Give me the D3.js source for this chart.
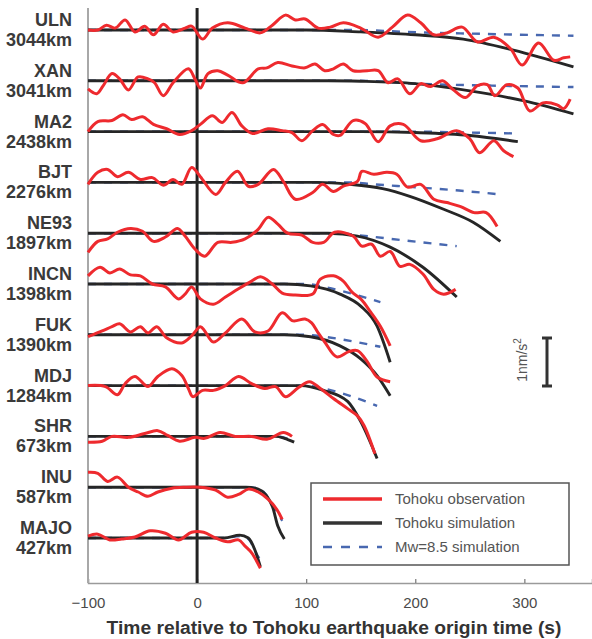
<!DOCTYPE html>
<html>
<head>
<meta charset="utf-8">
<script src="https://cdnjs.cloudflare.com/ajax/libs/d3/7.8.5/d3.min.js"></script>
<style>
  body { margin: 0; background: #fff; }
  svg { font-family: "Liberation Sans", Arial, sans-serif; }
</style>
</head>
<body>
<div id="chart"></div>
<script>
// stations, top to bottom
var stations = ["ULN", "XAN", "MA2", "BJT", "NE93", "INCN", "FUK", "MDJ", "SHR", "INU", "MAJO"];
var distances = [3044, 3041, 2438, 2276, 1897, 1398, 1390, 1284, 673, 587, 427];
var xTicks = [-100, 0, 100, 200, 300];

// Tohoku observation, [time (s), acceleration (nm/s^2)]
var observed = [
  [[-100,0],[-91,0],[-83,.10],[-75,.04],[-66,.21],[-57,-.04],[-48,.08],[-40,-.10],[-31,.12],[-22,-.04],[-11,.04],[-5,.08],[5,-.19],[14,.04],[28,.15],[44,.04],[58,-.06],[69,.10],[81,.31],[90,.21],[99,.23],[111,.04],[122,.06],[134,.15],[150,.04],[166,-.15],[179,.06],[193,.31],[205,.15],[217,-.10],[229,-.06],[243,.06],[257,-.25],[272,-.15],[287,-.38],[298,-.73],[313,-.27],[327,-.63],[336,-.58],[342,-.56]],
  [[-100,-.17],[-92,-.27],[-86,-.10],[-78,.15],[-71,.04],[-63,-.19],[-54,.08],[-45,.04],[-39,-.04],[-31,-.31],[-22,-.04],[-8,.25],[-2,.04],[3,-.15],[10,.15],[19,.21],[28,.12],[42,-.04],[56,.25],[64,.27],[74,.38],[87,.31],[99,.27],[108,.35],[117,.21],[125,.25],[134,.35],[143,.21],[156,.21],[166,.21],[175,-.04],[184,.04],[195,-.27],[205,-.06],[214,-.12],[225,0],[234,-.17],[246,-.35],[257,-.10],[266,-.08],[273,-.31],[284,-.08],[294,-.15],[305,-.63],[317,-.46],[330,-.50],[336,-.58],[342,-.38]],
  [[-100,0],[-91,.21],[-78,.23],[-68,.35],[-60,.25],[-50,.31],[-40,.15],[-28,.06],[-16,-.06],[-5,.02],[3,.15],[14,.33],[23,.19],[32,.40],[41,.12],[51,-.04],[65,.06],[78,.02],[87,-.02],[96,-.19],[106,.02],[115,.15],[125,-.06],[131,-.08],[143,.23],[154,.17],[166,-.21],[177,.12],[189,.15],[205,-.19],[220,-.15],[238,.02],[250,-.15],[259,-.44],[272,-.19],[281,-.40],[290,-.52]],
  [[-100,-.04],[-91,.21],[-82,.27],[-73,.12],[-63,.21],[-52,.06],[-41,.10],[-31,-.06],[-22,.06],[-14,-.04],[-5,.31],[3,.12],[17,-.25],[26,0],[37,.23],[47,-.08],[56,-.04],[70,.27],[79,.02],[90,-.35],[106,-.21],[115,-.04],[125,-.19],[134,-.08],[147,.02],[151,.23],[162,.17],[174,.21],[183,.17],[193,-.10],[205,-.04],[217,-.35],[229,-.42],[241,-.50],[254,-.63],[265,-.63],[275,-.92]],
  [[-100,-.40],[-91,-.17],[-82,-.12],[-73,.02],[-61,.10],[-50,.04],[-40,-.17],[-29,-.08],[-18,.10],[-11,-.06],[-2,-.33],[7,-.48],[19,-.19],[32,-.19],[44,-.12],[56,.08],[65,.33],[74,.19],[83,0],[96,-.04],[106,-.19],[116,-.19],[126,.02],[143,-.06],[151,-.27],[160,-.23],[168,-.48],[177,-.38],[186,-.69],[195,-.65],[207,-.85],[217,-1.17],[226,-1.27],[237,-1.17]],
  [[-100,.17],[-89,.35],[-80,.23],[-71,.31],[-61,.19],[-52,.17],[-41,0],[-29,-.06],[-17,-.31],[-11,-.21],[-5,-.06],[3,-.31],[15,-.42],[26,-.27],[38,-.10],[50,.06],[58,.15],[69,0],[78,-.19],[90,-.23],[106,-.21],[113,.10],[125,.17],[134,.06],[142,-.17],[150,-.31],[159,-.58],[168,-.88],[177,-1.29]],
  [[-100,-.04],[-87,.08],[-78,.17],[-71,.23],[-61,.06],[-52,.17],[-45,.04],[-37,.17],[-28,-.06],[-14,-.17],[-5,-.02],[3,.17],[7,.08],[15,-.15],[26,.04],[41,.33],[53,.06],[65,.08],[78,.46],[88,.29],[99,.33],[105,.25],[111,.04],[117,-.15],[128,-.46],[139,-.35],[147,-.33],[156,-.56],[165,-.88],[177,-.98]],
  [[-100,0],[-84,-.02],[-73,-.19],[-66,.04],[-57,.19],[-45,-.02],[-36,.19],[-23,.35],[-14,.21],[-8,-.06],[-4,-.23],[5,-.10],[15,-.10],[26,0],[38,.19],[50,.04],[62,-.06],[72,-.02],[81,-.23],[93,-.04],[103,.08],[113,-.06],[125,-.27],[138,-.48],[147,-.63],[153,-.83],[163,-1.42]],
  [[-100,-.12],[-87,-.10],[-78,0],[-63,-.02],[-48,.06],[-36,.12],[-27,.02],[-16,-.10],[-2,-.02],[7,-.04],[21,.08],[35,0],[50,0],[64,-.06],[79,.08],[87,0]],
  [[-100,.31],[-91,.29],[-82,.12],[-73,.21],[-63,0],[-54,-.10],[-45,-.19],[-36,-.10],[-23,-.02],[-11,0],[3,0],[17,-.06],[28,-.21],[38,-.15],[47,-.04],[56,-.10],[65,-.25],[73,-.46],[78,-.67]],
  [[-100,.04],[-91,.08],[-80,-.04],[-69,-.02],[-57,.02],[-43,.15],[-29,.10],[-17,-.04],[-5,.12],[6,.12],[17,0],[28,-.08],[38,-.04],[44,-.17],[50,-.31],[58,-.63]]
];

// Tohoku simulation
var simulated = [
  [[-100,0],[100,0],[150,-.04],[200,-.10],[244,-.19],[290,-.42],[345,-.77]],
  [[-100,0],[120,0],[150,-.01],[200,-.06],[250,-.21],[300,-.42],[345,-.69]],
  [[-100,0],[150,0],[200,-.02],[250,-.08],[294,-.21]],
  [[-100,0],[110,0],[140,-.04],[170,-.13],[195,-.29],[226,-.56],[253,-.83],[278,-1.23]],
  [[-100,0],[120,0],[147,-.06],[177,-.29],[207,-.71],[238,-1.33]],
  [[-100,0],[80,0],[104,-.04],[131,-.21],[150,-.46],[165,-.88],[177,-1.63]],
  [[-100,0],[80,0],[104,-.04],[131,-.23],[150,-.50],[165,-.85],[177,-1.27]],
  [[-100,0],[95,0],[116,-.10],[138,-.33],[150,-.75],[165,-1.52]],
  [[-100,0],[72,0],[80,-.04],[89,-.12]],
  [[-100,0],[45,0],[56,-.04],[69,-.40],[74,-.81],[80,-1.08]],
  [[-100,0],[25,0],[39,.06],[47,0],[53,-.25],[58,-.60]]
];

// Mw=8.5 simulation
var mw85Sim = [
  [[-100,0],[150,0],[190,-.04],[260,-.08],[345,-.12]],
  [[-100,0],[150,0],[200,-.06],[270,-.10],[345,-.13]],
  [[-100,0],[200,0],[250,-.02],[295,-.04]],
  [[-100,0],[140,0],[162,-.04],[200,-.10],[240,-.17],[278,-.25]],
  [[-100,0],[130,0],[147,-.04],[190,-.15],[238,-.27]],
  [[-100,0],[100,0],[116,-.06],[140,-.19],[168,-.38]],
  [[-100,0],[100,0],[116,-.04],[168,-.25]],
  [[-100,0],[100,0],[116,-.06],[165,-.42]],
  [[-100,0],[72,0],[89,-.10]],
  [[-100,0],[45,0],[56,-.02],[69,-.35],[78,-.70]],
  [[-100,0],[25,0],[39,.04],[47,-.02],[55,-.35],[57,-.42]]
];

var width = 592;
var height = 639;
var plotLeft = 88;
var plotTop = 8;
var plotBottom = 583;
var pxPerUnit = 48;   // 1 nm/s^2 on screen

var svg = d3.select("#chart")
    .append("svg")
    .attr("width", width)
    .attr("height", height);

var xScale = d3.scaleLinear()
    .domain([-100, 362])
    .range([plotLeft, width]);

var rowScale = d3.scalePoint()
    .domain(stations)
    .range([30, 538]);

var ampScale = d3.scaleLinear()
    .domain([0, 1])
    .range([0, -pxPerUnit]);

// x axis
var xAxis = d3.axisBottom(xScale)
    .tickValues(xTicks)
    .tickSize(-4)
    .tickPadding(14)
    .tickFormat(function(d) { return d < 0 ? "\u2212" + Math.abs(d) : d; });

var xAxisG = svg.append("g")
    .attr("transform", `translate(0, ${plotBottom})`)
    .call(xAxis);
xAxisG.select(".domain").attr("stroke", "#9a9a9a").attr("stroke-width", 1.5);
xAxisG.selectAll(".tick line").attr("stroke", "#777").attr("stroke-width", 1.2);
xAxisG.selectAll(".tick text")
    .attr("font-size", 15)
    .attr("fill", "#4a4a4a");

// left frame line
svg.append("line")
    .attr("x1", plotLeft).attr("x2", plotLeft)
    .attr("y1", plotTop).attr("y2", plotBottom)
    .attr("stroke", "#a8a8a8")
    .attr("stroke-width", 2);

// origin time line
svg.append("line")
    .attr("x1", xScale(0)).attr("x2", xScale(0))
    .attr("y1", plotTop).attr("y2", plotBottom)
    .attr("stroke", "#222")
    .attr("stroke-width", 3);

// axis title, fit to the reference width
var xTitle = svg.append("text")
    .attr("x", 334)
    .attr("y", 634)
    .attr("text-anchor", "middle")
    .attr("font-weight", "bold")
    .attr("font-size", 18)
    .attr("fill", "#333")
    .text("Time relative to Tohoku earthquake origin time (s)");
var titleW = xTitle.node().getComputedTextLength();
xTitle.attr("font-size", 18 * 455 / titleW);

// line generators
var smoothLine = d3.line()
    .x(function(d) { return xScale(d[0]); })
    .y(function(d) { return ampScale(d[1]); })
    .curve(d3.curveCatmullRom.alpha(0.5));

var simLine = d3.line()
    .x(function(d) { return xScale(d[0]); })
    .y(function(d) { return ampScale(d[1]); })
    .curve(d3.curveMonotoneX);

// one row per station
var rows = svg.selectAll("g.row")
    .data(stations)
    .enter()
    .append("g")
    .attr("class", "row")
    .attr("transform", function(d) { return `translate(0, ${rowScale(d)})`; });

rows.append("text")
    .attr("x", 72)
    .attr("y", -4)
    .attr("text-anchor", "end")
    .attr("font-weight", "bold")
    .attr("font-size", 18)
    .attr("fill", "#3a3a3a")
    .text(function(d) { return d; });

rows.append("text")
    .attr("x", 72)
    .attr("y", 16)
    .attr("text-anchor", "end")
    .attr("font-weight", "bold")
    .attr("font-size", 18)
    .attr("fill", "#3a3a3a")
    .text(function(d, i) { return distances[i] + "km"; });

rows.append("path")
    .attr("d", function(d, i) { return simLine(mw85Sim[i]); })
    .attr("fill", "none")
    .attr("stroke", "#4868b0")
    .attr("stroke-width", 2.4)
    .attr("stroke-dasharray", "8,8");

rows.append("path")
    .attr("d", function(d, i) { return simLine(simulated[i]); })
    .attr("fill", "none")
    .attr("stroke", "#262626")
    .attr("stroke-width", 2.9);

rows.append("path")
    .attr("d", function(d, i) { return smoothLine(observed[i]); })
    .attr("fill", "none")
    .attr("stroke", "#ee2a2e")
    .attr("stroke-width", 3)
    .attr("stroke-linejoin", "round");

// scale bar, 1 nm/s^2
var barX = 547;
var barTop = 338;
var barBottom = barTop + pxPerUnit;
var bar = svg.append("g").attr("stroke", "#333").attr("stroke-width", 3);
bar.append("line").attr("x1", barX).attr("x2", barX).attr("y1", barTop).attr("y2", barBottom);
bar.append("line").attr("x1", barX - 5).attr("x2", barX + 5).attr("y1", barTop).attr("y2", barTop);
bar.append("line").attr("x1", barX - 5).attr("x2", barX + 5).attr("y1", barBottom).attr("y2", barBottom);

var barLabel = svg.append("text")
    .attr("transform", `translate(527, 360) rotate(-90)`)
    .attr("text-anchor", "middle")
    .attr("font-size", 14)
    .attr("fill", "#555");
barLabel.append("tspan").text("1nm/s");
barLabel.append("tspan").attr("dy", -6).attr("font-size", 10).text("2");

// legend
var legendItems = [
  { label: "Tohoku observation", color: "#ee2a2e", dash: null, w: 3.5 },
  { label: "Tohoku simulation", color: "#333", dash: null, w: 3.5 },
  { label: "Mw=8.5 simulation", color: "#4868b0", dash: "9,9", w: 2.5 }
];

var legend = svg.append("g").attr("transform", "translate(311, 483)");
legend.append("rect")
    .attr("width", 258)
    .attr("height", 82)
    .attr("fill", "#fff")
    .attr("stroke", "#555")
    .attr("stroke-width", 1.5);

var legendRow = legend.selectAll("g.item")
    .data(legendItems)
    .enter()
    .append("g")
    .attr("transform", function(d, i) { return `translate(0, ${16 + i * 24})`; });

legendRow.append("line")
    .attr("x1", 12).attr("x2", 71)
    .attr("stroke", function(d) { return d.color; })
    .attr("stroke-width", function(d) { return d.w; })
    .attr("stroke-dasharray", function(d) { return d.dash; });

legendRow.append("text")
    .attr("x", 84)
    .attr("y", 5)
    .attr("font-size", 15)
    .attr("fill", "#555")
    .text(function(d) { return d.label; });
</script>
</body>
</html>
